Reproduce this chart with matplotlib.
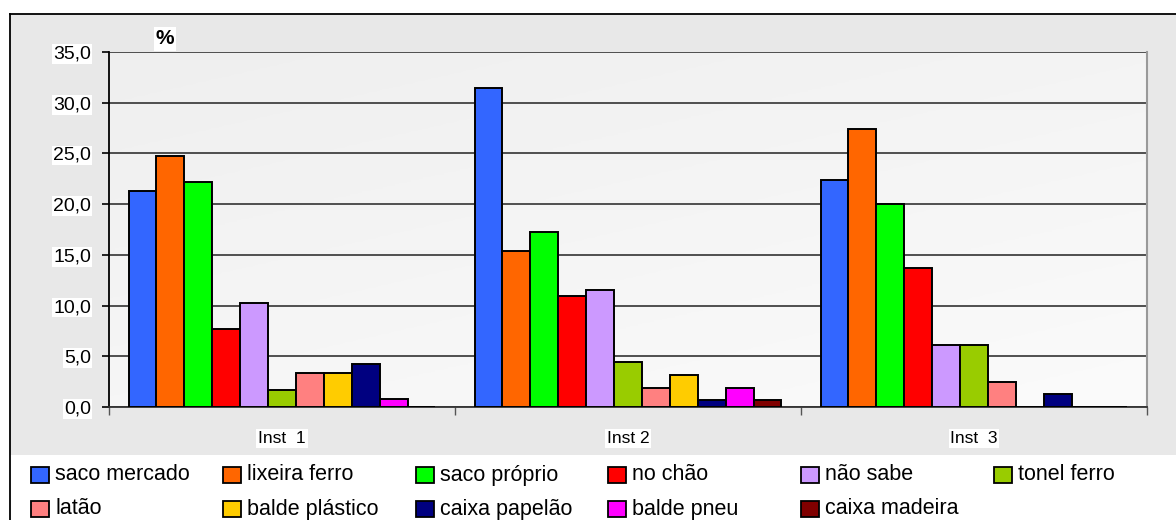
import numpy as np
import matplotlib
matplotlib.use("Agg")
import matplotlib.pyplot as plt
from matplotlib.patches import Rectangle
from matplotlib.lines import Line2D

# ---------------- data ----------------
groups = ["Inst  1", "Inst 2", "Inst  3"]
series = ["saco mercado", "lixeira ferro", "saco próprio", "no chão", "não sabe",
          "tonel ferro", "latão", "balde plástico", "caixa papelão", "balde pneu",
          "caixa madeira"]
saco_mercado   = [21.3, 31.5, 22.4]
lixeira_ferro  = [24.7, 15.4, 27.4]
saco_proprio   = [22.2, 17.3, 20.0]
no_chao        = [7.7, 10.9, 13.7]
nao_sabe       = [10.3, 11.5, 6.1]
tonel_ferro    = [1.7, 4.4, 6.1]
latao          = [3.4, 1.9, 2.5]
balde_plastico = [3.4, 3.2, 0.0]
caixa_papelao  = [4.2, 0.7, 1.3]
balde_pneu     = [0.8, 1.9, 0.0]
caixa_madeira  = [0.0, 0.7, 0.0]
values = [saco_mercado, lixeira_ferro, saco_proprio, no_chao, nao_sabe, tonel_ferro,
          latao, balde_plastico, caixa_papelao, balde_pneu, caixa_madeira]
colors = ["#3366FF", "#FF6600", "#00FF00", "#FF0000", "#CC99FF", "#99CC00",
          "#FF8080", "#FFCC00", "#000080", "#FF00FF", "#800000"]
yticks = [0, 5, 10, 15, 20, 25, 30, 35]
ytick_labels = ["0,0", "5,0", "10,0", "15,0", "20,0", "25,0", "30,0", "35,0"]

plt.rcParams["font.family"] = ["Liberation Sans", "DejaVu Sans"]

W, H = 1176, 520
fig = plt.figure(figsize=(W / 100, H / 100), dpi=100)
fig.patch.set_facecolor("white")

def fx(px):
    return px / W

def fy(py):
    return 1 - py / H

# outer frame (gray chart area)
fig.patches.append(Rectangle((fx(10), fy(455)), fx(1166), (455 - 14) / H,
                             transform=fig.transFigure, fc="#e8e8e8", ec="none", zorder=-10))
fig.lines.append(Line2D([fx(10), 1], [fy(14), fy(14)], transform=fig.transFigure,
                        color="black", lw=1.3, zorder=-9))
fig.lines.append(Line2D([fx(10), fx(10)], [fy(14), 0], transform=fig.transFigure,
                        color="black", lw=1.3, zorder=-9))

ax = fig.add_axes([fx(109), fy(407), (1147 - 109) / W, (407 - 52) / H])
ax.set_zorder(1)
ax.set_facecolor("#f6f6f6")

# subtle gradient background of the plot area
grad = np.linspace(0, 1, 256).reshape(-1, 1) * 0.6 + np.linspace(0, 1, 256).reshape(1, -1) * 0.4
cmap = matplotlib.colors.LinearSegmentedColormap.from_list("g", ["#efefef", "#fbfbfb"])
ax.imshow(grad, extent=(0, 3, 0, 35), aspect="auto", cmap=cmap,
          origin="upper", zorder=0, interpolation="bilinear")

n = len(series)
w = 0.887 / n
centers = np.arange(len(groups)) + 0.5
for j, (vals, c) in enumerate(zip(values, colors)):
    ax.bar(centers + (j - (n - 1) / 2) * w, vals, width=w, color=c,
           edgecolor="black", linewidth=1.4, zorder=3)

ax.set_xlim(0, 3)
ax.set_ylim(0, 35)
ax.set_yticks(yticks)
ax.set_yticklabels(ytick_labels, fontsize=14)
for t in ax.get_yticklabels():
    t.set_bbox(dict(facecolor="white", edgecolor="none", pad=1))
ax.set_xticks([0, 1, 2, 3])
ax.set_xticklabels([])
ax.tick_params(axis="y", direction="out", length=5, width=1.2, pad=8, colors="black")
ax.tick_params(axis="x", direction="out", length=6, width=1.0, colors="#555555")
ax.yaxis.grid(True, color="#333333", lw=1.2, zorder=1)
ax.set_axisbelow(True)
ax.spines["top"].set_visible(False)
ax.spines["right"].set_color("#999999")
ax.spines["right"].set_linewidth(1.5)
ax.spines["left"].set_color("black")
ax.spines["left"].set_linewidth(1.3)
ax.spines["bottom"].set_color("#333333")
ax.spines["bottom"].set_linewidth(1.3)

# group labels
for c, g in zip(centers, groups):
    ax.text(c, -3.1, g, ha="center", va="center", fontsize=12.5,
            bbox=dict(facecolor="white", edgecolor="none", pad=1.2))

# % label
fig.text(fx(165), fy(39), "%", ha="center", va="center", fontsize=15, fontweight="bold",
         bbox=dict(facecolor="white", edgecolor="none", pad=1.5))

# legend (6 columns, 2 rows)
col_x = [31, 223, 416, 608, 801, 994]
row_y = [475, 509]
sqw, sqh = 18, 16
for i, (name, c) in enumerate(zip(series, colors)):
    col, row = i % 6, i // 6
    x0, yc = col_x[col], row_y[row]
    fig.patches.append(Rectangle((fx(x0), fy(yc + sqh / 2)), sqw / W, sqh / H,
                                 transform=fig.transFigure, fc=c, ec="black", lw=1.3))
    fig.text(fx(x0 + sqw + 6), fy(yc), name, ha="left", va="center", fontsize=15.5)

fig.savefig("out.png", dpi=100)
